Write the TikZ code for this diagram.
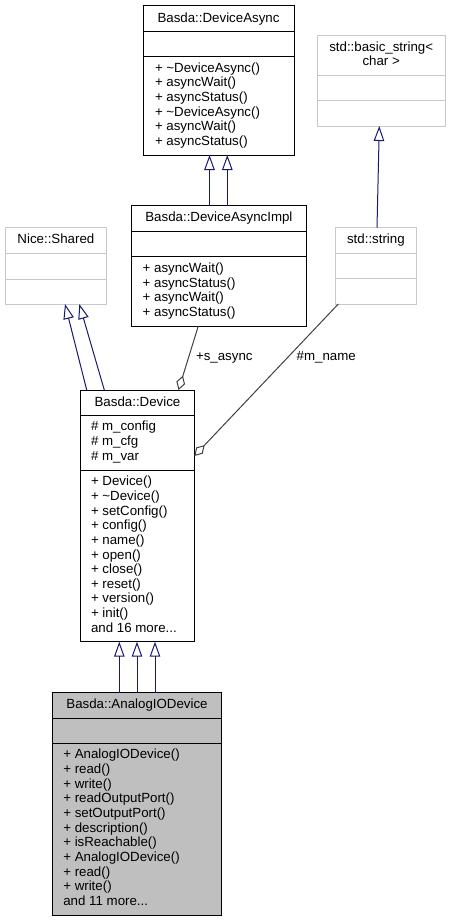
\documentclass[tikz,border=0pt]{standalone}
\usepackage{fontspec}
\setmainfont{Liberation Sans}
\usetikzlibrary{arrows.meta}
\definecolor{edgeblue}{HTML}{191970}
\definecolor{edgegray}{HTML}{404040}
\definecolor{boxgray}{HTML}{BFBFBF}
\definecolor{extline}{HTML}{C8C8C8}
\newcommand\tripledots{...}
\begin{document}
\begin{tikzpicture}[x=1pt,y=-1pt,
  every node/.style={font=\fontsize{13.3}{14.66}\selectfont, inner sep=0pt, outer sep=0pt},
  docbox/.style={draw=black, line width=1pt, anchor=north west},
  extbox/.style={draw=extline, line width=1pt, anchor=north west},
  docdiv/.style={draw=black, line width=1pt},
  extdiv/.style={draw=extline, line width=1pt},
  inh/.style={draw=edgeblue, line width=1pt, -{Triangle[open, length=15pt, width=10.5pt]}},
  agg/.style={draw=edgegray, line width=1pt, {Diamond[open, length=15pt, width=9pt]}-},
  lbl/.style={anchor=base west},
  ttl/.style={anchor=base}]
\useasboundingbox[fill=white] (0,0) rectangle (450,921);

% Basda::DeviceAsync
\node[docbox, minimum width=151pt, minimum height=150pt] (da) at (143,5) {};
\draw[docdiv] (da.west |- 0,31.7) -- (da.east |- 0,31.7);
\draw[docdiv] (da.west |- 0,56.7) -- (da.east |- 0,56.7);
\node[ttl] (dat) at (218.5,22.5) {Basda::DeviceAsync};
\foreach \t [count=\i from 0] in {{+ \textasciitilde DeviceAsync()}, {+ asyncWait()}, {+ asyncStatus()}, {+ \textasciitilde DeviceAsync()}, {+ asyncWait()}, {+ asyncStatus()}}
  \node[lbl] (dam\i) at (155, 72.2+\i*14.66) {\t};

% std::basic_string< char >
\node[extbox, minimum width=127.7pt, minimum height=91pt] (bs) at (317.3,35) {};
\draw[extdiv] (bs.west |- 0,75) -- (bs.east |- 0,75);
\draw[extdiv] (bs.west |- 0,100) -- (bs.east |- 0,100);
\node[ttl] (bst1) at (381.2,51) {std::basic\_string<};
\node[ttl] (bst2) at (381.2,65.7) {char >};

% std::string
\node[extbox, minimum width=80.3pt, minimum height=76.3pt] (ss) at (335.7,227.7) {};
\draw[extdiv] (ss.west |- 0,253.3) -- (ss.east |- 0,253.3);
\draw[extdiv] (ss.west |- 0,278.3) -- (ss.east |- 0,278.3);
\node[ttl] (sst) at (375.9,243.7) {std::string};

% Nice::Shared
\node[extbox, minimum width=101.7pt, minimum height=76.3pt] (ns) at (5,227.7) {};
\draw[extdiv] (ns.west |- 0,253.3) -- (ns.east |- 0,253.3);
\draw[extdiv] (ns.west |- 0,279) -- (ns.east |- 0,279);
\node[ttl] (nst) at (55.9,243.7) {Nice::Shared};

% Basda::DeviceAsyncImpl
\node[docbox, minimum width=174.3pt, minimum height=120.3pt] (dai) at (131.7,205.7) {};
\draw[docdiv] (dai.west |- 0,231.7) -- (dai.east |- 0,231.7);
\draw[docdiv] (dai.west |- 0,256.7) -- (dai.east |- 0,256.7);
\node[ttl] (dait) at (218.9,221.7) {Basda::DeviceAsyncImpl};
\foreach \t [count=\i from 0] in {{+ asyncWait()}, {+ asyncStatus()}, {+ asyncWait()}, {+ asyncStatus()}}
  \node[lbl] (daim\i) at (142.7, 272.5+\i*14.66) {\t};

% Basda::Device
\node[docbox, minimum width=113.6pt, minimum height=251.7pt] (dev) at (80.7,390) {};
\draw[docdiv] (dev.west |- 0,415) -- (dev.east |- 0,415);
\draw[docdiv] (dev.west |- 0,470) -- (dev.east |- 0,470);
\node[ttl] (devt) at (137.5,406) {Basda::Device};
\foreach \t [count=\i from 0] in {{\# m\_config}, {\# m\_cfg}, {\# m\_var}}
  \node[lbl] (deva\i) at (91, 430.7+\i*14.66) {\t};
\foreach \t [count=\i from 0] in {{+ Device()}, {+ \textasciitilde Device()}, {+ setConfig()}, {+ config()}, {+ name()}, {+ open()}, {+ close()}, {+ reset()}, {+ version()}, {+ init()}, {and 16 more\tripledots}}
  \node[lbl] (devm\i) at (91, 485.7+\i*14.66) {\t};

% Basda::AnalogIODevice
\node[docbox, fill=boxgray, minimum width=169.4pt, minimum height=222.3pt] (aio) at (52.3,692.7) {};
\draw[docdiv] (aio.west |- 0,718.3) -- (aio.east |- 0,718.3);
\draw[docdiv] (aio.west |- 0,743.3) -- (aio.east |- 0,743.3);
\node[ttl] (aiot) at (137,708.7) {Basda::AnalogIODevice};
\foreach \t [count=\i from 0] in {{+ AnalogIODevice()}, {+ read()}, {+ write()}, {+ readOutputPort()}, {+ setOutputPort()}, {+ description()}, {+ isReachable()}, {+ AnalogIODevice()}, {+ read()}, {+ write()}, {and 11 more\tripledots}}
  \node[lbl] (aiom\i) at (63.3, 758.8+\i*14.66) {\t};

% inheritance
\draw[inh] (ss.north -| 377,0) -- (bs.south -| 379.3,0);
\draw[inh] (dai.north -| 209.5,0) -- (da.south -| 209.5,0);
\draw[inh] (dai.north -| 227.3,0) -- (da.south -| 227.3,0);
\draw[inh] (dev.north -| 86.7,0) -- (ns.south -| 65,0);
\draw[inh] (dev.north -| 104.3,0) -- (ns.south -| 79.3,0);
\draw[inh] (aio.north -| 119.3,0) -- (dev.south -| 119.3,0);
\draw[inh] (aio.north -| 137,0) -- (dev.south -| 137,0);
\draw[inh] (aio.north -| 155,0) -- (dev.south -| 155,0);

% aggregation
\draw[agg] (dev.north -| 178.5,0) -- (dai.south -| 198.3,0);
\draw[agg] (dev.east |- 0,456) -- (ss.south -| 338.3,0);
\node[lbl] (lsa) at (196,360.5) {+s\_async};
\node[lbl] (lmn) at (296.7,360.5) {\#m\_name};
\end{tikzpicture}
\end{document}
